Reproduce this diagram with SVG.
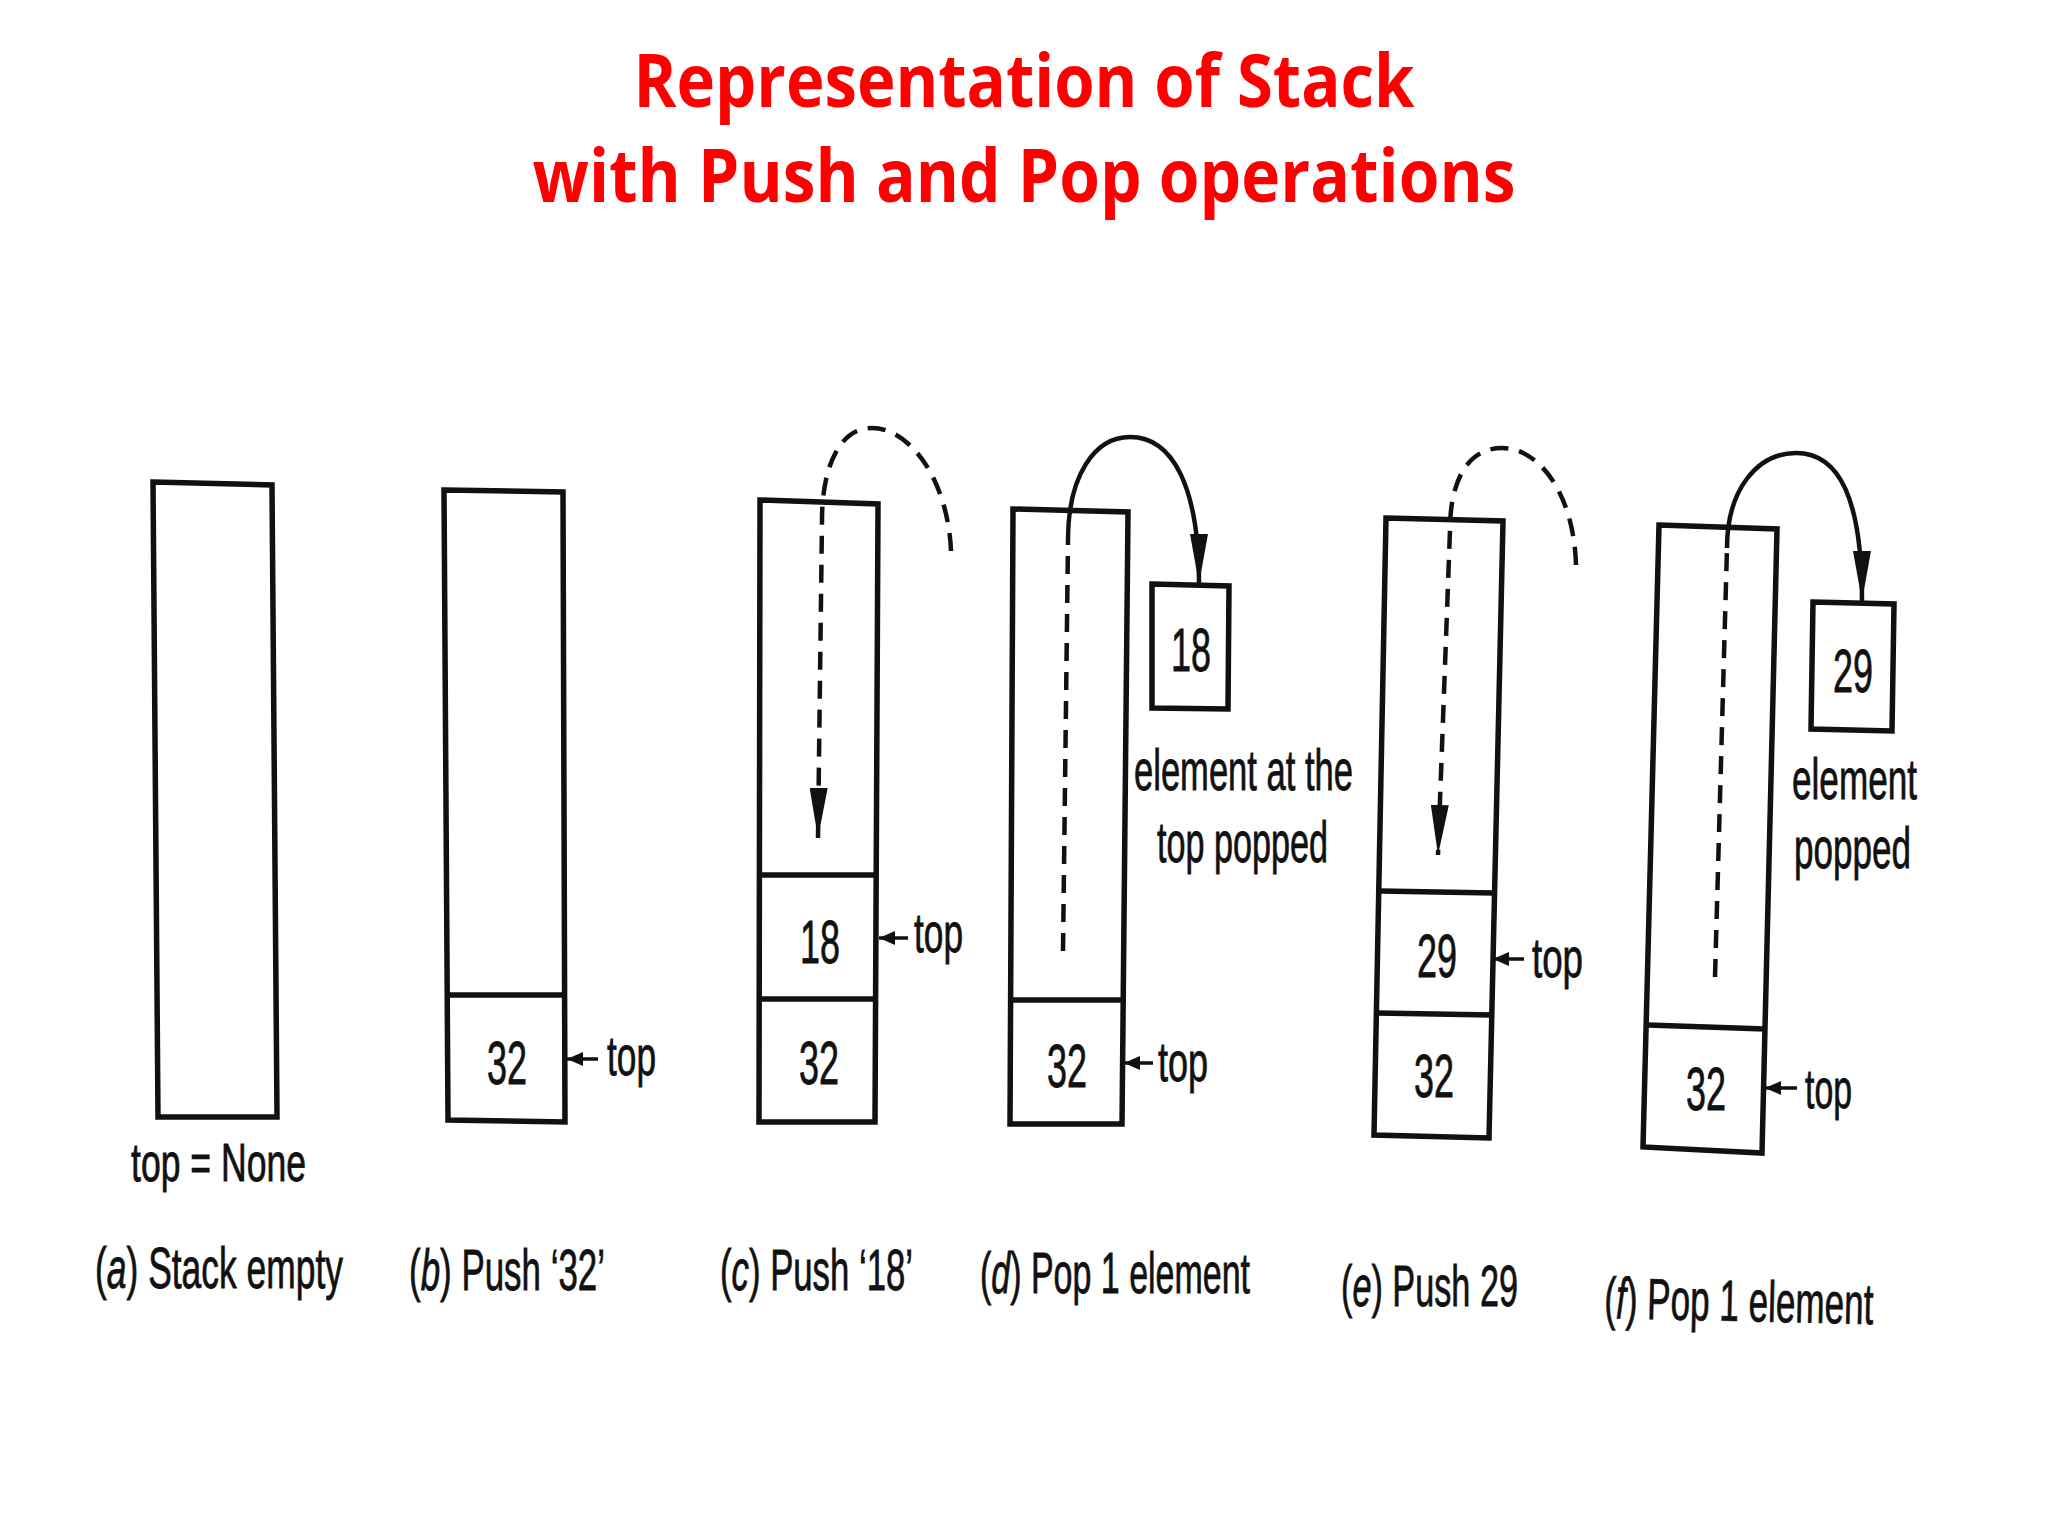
<svg xmlns="http://www.w3.org/2000/svg" width="2048" height="1536" viewBox="0 0 2048 1536">
<defs>
<style>
.title{font-family:"Open Sans","Liberation Sans",sans-serif;font-weight:bold;font-size:73px;fill:#ff0000;text-anchor:middle}
.box{fill:none;stroke:#111;stroke-width:5.5;stroke-linejoin:miter}
.t{font-family:"Liberation Sans",Arial,sans-serif;fill:#111;stroke:#111;stroke-width:0.8}
.cap{font-size:58px}
.num{font-size:62px;text-anchor:middle}
.top{font-size:56px}
.it{font-style:italic}
.dash{fill:none;stroke:#111;stroke-width:4.5;stroke-dasharray:18 11}
.solid{fill:none;stroke:#111;stroke-width:4.5}
.ptr{fill:none;stroke:#111;stroke-width:3.5}
</style>
<marker id="head" viewBox="0 0 50 18" refX="50" refY="9" markerWidth="50" markerHeight="18" markerUnits="userSpaceOnUse" orient="auto">
<path d="M0,0 L50,9 L0,18 Z" fill="#111"/>
</marker>
<marker id="small" viewBox="0 0 16 14" refX="16" refY="7" markerWidth="16" markerHeight="14" markerUnits="userSpaceOnUse" orient="auto">
<path d="M0,0 L16,7 L0,14 Z" fill="#111"/>
</marker>
</defs>
<rect width="2048" height="1536" fill="#ffffff"/>
<g id="title">
<text class="title" x="1024" y="107" textLength="781" lengthAdjust="spacingAndGlyphs">Representation of Stack</text>
<text class="title" x="1024" y="202" textLength="983" lengthAdjust="spacingAndGlyphs">with Push and Pop operations</text>
</g>
<g id="stack-a">
<path class="box" d="M153,482 L272,485 L277,1117 L158,1117 Z"/>
<text class="t" x="131" y="1181" font-size="54" textLength="175" lengthAdjust="spacingAndGlyphs">top = None</text>
<text class="t cap" x="95" y="1288" textLength="248" lengthAdjust="spacingAndGlyphs">(<tspan class="it">a</tspan>) Stack empty</text>
</g>
<g id="stack-b">
<path class="box" d="M444,490 L563,492 L565,1122 L448,1120 Z"/>
<path class="box" d="M447,995 L564,995"/>
<text class="t num" x="507" y="1084" textLength="40" lengthAdjust="spacingAndGlyphs">32</text>
<text class="t top" x="607" y="1075" textLength="49" lengthAdjust="spacingAndGlyphs">top</text>
<text class="t cap" x="409" y="1290" textLength="196" lengthAdjust="spacingAndGlyphs">(<tspan class="it">b</tspan>) Push ‘32’</text>
</g>
<g id="stack-c">
<path class="box" d="M760,500 L878,504 L875,1122 L759,1122 Z"/>
<path class="box" d="M761,875 L877,875 M760,999 L876,999"/>
<text class="t num" x="820" y="963" textLength="40" lengthAdjust="spacingAndGlyphs">18</text>
<text class="t num" x="819" y="1084" textLength="40" lengthAdjust="spacingAndGlyphs">32</text>
<text class="t top" x="914" y="952" textLength="49" lengthAdjust="spacingAndGlyphs">top</text>
<text class="t cap" x="720" y="1290" textLength="193" lengthAdjust="spacingAndGlyphs">(<tspan class="it">c</tspan>) Push ‘18’</text>
</g>
<g id="stack-d">
<path class="box" d="M1013,509 L1128,512 L1122,1124 L1010,1124 Z"/>
<path class="box" d="M1011,1000 L1123,1000"/>
<text class="t num" x="1067" y="1087" textLength="40" lengthAdjust="spacingAndGlyphs">32</text>
<text class="t top" x="1158" y="1081" textLength="50" lengthAdjust="spacingAndGlyphs">top</text>
<text class="t cap" x="980" y="1293" textLength="270" lengthAdjust="spacingAndGlyphs">(<tspan class="it">d</tspan>) Pop 1 element</text>
</g>
<g id="popped-18">
<path class="box" d="M1152,584 L1229,586 L1228,709 L1152,708 Z"/>
<text class="t num" x="1191" y="671" textLength="40" lengthAdjust="spacingAndGlyphs">18</text>
<text class="t cap" x="1134" y="790" textLength="219" lengthAdjust="spacingAndGlyphs">element at the</text>
<text class="t cap" x="1157" y="862" textLength="171" lengthAdjust="spacingAndGlyphs">top popped</text>
</g>
<g id="stack-e">
<path class="box" d="M1386,518 L1503,521 L1489,1138 L1374,1135 Z"/>
<path class="box" d="M1380,891 L1494,893 M1377,1013 L1492,1015"/>
<text class="t num" x="1437" y="977" textLength="40" lengthAdjust="spacingAndGlyphs">29</text>
<text class="t num" x="1434" y="1097" textLength="40" lengthAdjust="spacingAndGlyphs">32</text>
<text class="t top" x="1532" y="977" textLength="51" lengthAdjust="spacingAndGlyphs">top</text>
<text class="t cap" x="1341" y="1306" textLength="177" lengthAdjust="spacingAndGlyphs">(<tspan class="it">e</tspan>) Push 29</text>
</g>
<g id="stack-f">
<path class="box" d="M1659,525 L1777,529 L1762,1153 L1643,1147 Z"/>
<path class="box" d="M1648,1025 L1765,1029"/>
<text class="t num" x="1706" y="1110" textLength="40" lengthAdjust="spacingAndGlyphs">32</text>
<text class="t top" x="1805" y="1108" textLength="47" lengthAdjust="spacingAndGlyphs">top</text>
<text class="t cap" x="1604" y="1318" textLength="269" lengthAdjust="spacingAndGlyphs" transform="rotate(1.3 1604 1318)">(<tspan class="it">f</tspan>) Pop 1 element</text>
</g>
<g id="popped-29">
<path class="box" d="M1813,602 L1894,604 L1892,731 L1811,729 Z"/>
<text class="t num" x="1853" y="692" textLength="40" lengthAdjust="spacingAndGlyphs">29</text>
<text class="t cap" x="1792" y="799" textLength="125" lengthAdjust="spacingAndGlyphs">element</text>
<text class="t cap" x="1794" y="868" textLength="117" lengthAdjust="spacingAndGlyphs">popped</text>
</g>
<g id="connectors">
<path class="dash" d="M951,551 C948,480 910,428 872,428 C838,428 822,470 822,520 L818,838" marker-end="url(#head)"/>
<path class="dash" d="M1063,951 L1068,540"/>
<path class="solid" d="M1068,540 C1068,475 1095,437 1130,437 C1172,437 1199,485 1199,584" marker-end="url(#head)"/>
<path class="dash" d="M1576,565 C1574,495 1540,448 1502,448 C1468,448 1450,480 1450,530 L1438,855" marker-end="url(#head)"/>
<path class="dash" d="M1715,977 L1727,548"/>
<path class="solid" d="M1727,548 C1727,490 1757,453 1796,453 C1840,453 1862,500 1862,601" marker-end="url(#head)"/>
<path class="ptr" d="M598,1059 L567,1059" marker-end="url(#small)"/>
<path class="ptr" d="M908,938 L879,938" marker-end="url(#small)"/>
<path class="ptr" d="M1153,1063 L1124,1063" marker-end="url(#small)"/>
<path class="ptr" d="M1524,959 L1493,959" marker-end="url(#small)"/>
<path class="ptr" d="M1797,1088 L1765,1088" marker-end="url(#small)"/>
</g>
</svg>
